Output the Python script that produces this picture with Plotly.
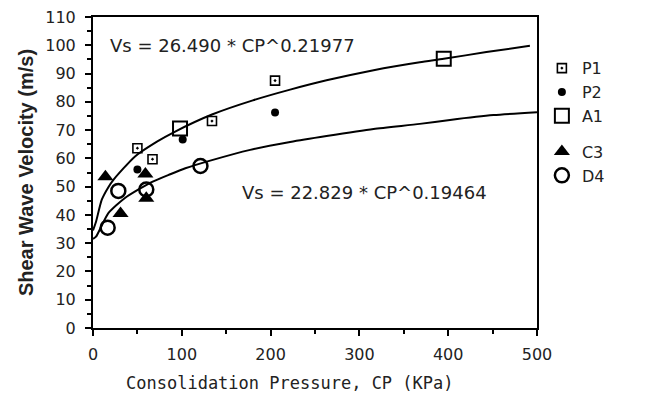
import plotly.graph_objects as go

# ---- data ----
p1_x = [50, 67, 134, 205]
p1_y = [63.6, 59.7, 73.2, 87.5]
p2_x = [50, 101, 205]
p2_y = [56.1, 66.7, 76.2]
a1_x = [98, 395]
a1_y = [70.6, 95.2]
c3_x = [14, 31, 59, 60]
c3_y = [53.5, 40.5, 54.5, 45.9]
d4_x = [16.5, 28.5, 60, 121]
d4_y = [35.5, 48.5, 49, 57.3]

upper_x = [0, 3.4, 9.8, 17.3, 23, 47, 72, 92, 134, 180, 222, 263, 316, 368, 395, 443, 492]
upper_y = [34.5, 37.6, 45.3, 49.8, 52.4, 60.6, 65.9, 69.4, 75.5, 80.5, 84.3, 87.6, 91.2, 94.0, 95.2, 97.6, 99.8]
lower_x = [0, 3.4, 17.3, 36, 66, 87, 104, 132, 177, 222, 263, 316, 368, 402, 451, 500]
lower_y = [31.5, 32.3, 40.6, 46.0, 51.6, 54.4, 56.5, 59.2, 63.0, 65.8, 67.9, 70.4, 72.2, 73.6, 75.3, 76.3]

eq_upper = "Vs = 26.490 * CP^0.21977"
eq_lower = "Vs = 22.829 * CP^0.19464"
x_title = "Consolidation Pressure, CP (KPa)"
y_title = "Shear Wave Velocity (m/s)"

fig = go.Figure()
for cx, cy in ((upper_x, upper_y), (lower_x, lower_y)):
    fig.add_trace(go.Scatter(x=cx, y=cy, mode="lines",
                             line=dict(color="black", width=2, shape="spline", smoothing=0.6),
                             showlegend=False, hoverinfo="skip"))

fig.add_trace(go.Scatter(x=p1_x, y=p1_y, mode="markers", name="P1", legendgroup="g1",
                         marker=dict(symbol="square-open-dot", size=9, color="black", line=dict(width=1.6, color="black"))))
fig.add_trace(go.Scatter(x=p2_x, y=p2_y, mode="markers", name="P2", legendgroup="g1",
                         marker=dict(symbol="circle", size=8, color="black")))
fig.add_trace(go.Scatter(x=a1_x, y=a1_y, mode="markers", name="A1", legendgroup="g1",
                         marker=dict(symbol="square-open", size=14, color="black", line=dict(width=2, color="black"))))
fig.add_trace(go.Scatter(x=c3_x, y=c3_y, mode="markers", name="C3", legendgroup="g2",
                         marker=dict(symbol="triangle-up", size=14, color="black")))
fig.add_trace(go.Scatter(x=d4_x, y=d4_y, mode="markers", name="D4", legendgroup="g2",
                         marker=dict(symbol="circle-open", size=14, color="black", line=dict(width=2.5, color="black"))))

fig.add_annotation(x=17, y=100, text=eq_upper, showarrow=False, xanchor="left", yanchor="middle",
                   font=dict(family="DejaVu Sans", size=18, color="#222"))
fig.add_annotation(x=165, y=47.8, text=eq_lower, showarrow=False, xanchor="left", yanchor="middle",
                   font=dict(family="DejaVu Sans", size=18, color="#222"))
fig.add_annotation(x=0.444, y=-0.177, xref="paper", yref="paper", text=x_title, showarrow=False,
                   xanchor="center", yanchor="middle",
                   font=dict(family="DejaVu Sans Mono", size=17, color="#222"))

fig.update_layout(
    width=657, height=393,
    margin=dict(l=85, r=128, t=9, b=73),
    paper_bgcolor="white", plot_bgcolor="white",
    font=dict(family="DejaVu Sans", color="#222", size=16),
    legend=dict(x=1.011, y=0.89, xanchor="left", yanchor="top", traceorder="grouped",
                tracegroupgap=12, font=dict(size=16), bgcolor="rgba(0,0,0,0)"),
    xaxis=dict(range=[0, 500], tickvals=[0, 100, 200, 300, 400, 500], showgrid=False, zeroline=False,
               automargin=False, ticklabelstandoff=5, ticklabeloverflow="allow",
               showline=True, linecolor="black", linewidth=2, mirror=True,
               ticks="outside", ticklen=6, tickwidth=2, tickcolor="black",
               minor=dict(dtick=50, ticks="outside", ticklen=4, tickwidth=2, tickcolor="black"),
               tickfont=dict(size=16)),
    yaxis=dict(range=[0, 110], dtick=10, showgrid=False, zeroline=False,
               automargin=False, ticklabelstandoff=6, ticklabeloverflow="allow",
               showline=True, linecolor="black", linewidth=2, mirror=True,
               ticks="outside", ticklen=6, tickwidth=2, tickcolor="black",
               minor=dict(dtick=5, ticks="outside", ticklen=4, tickwidth=2, tickcolor="black"),
               title=dict(text="<b>" + y_title + "</b>", font=dict(family="Liberation Sans", size=20), standoff=6),
               tickfont=dict(size=16)),
)

fig.write_html("out.html")
